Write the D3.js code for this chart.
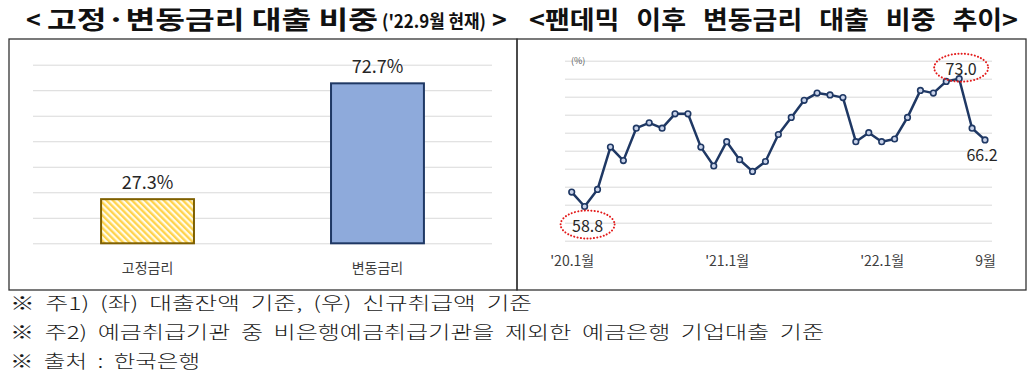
<!DOCTYPE html>
<html>
<head>
<meta charset="utf-8">
<script src="https://cdn.jsdelivr.net/npm/d3@7"></script>
<style>
  body { margin: 0; background: #fff; }
  svg { display: block; font-family: "Noto Sans CJK KR", "Noto Sans", sans-serif; }
</style>
</head>
<body>
<div id="chart"></div>
<script>
// left panel: share of loans by rate type ('22.9)
const barCategories = ["고정금리", "변동금리"];
const barShares = [27.3, 72.7];
const barTicks = [10, 20, 30, 40, 50, 60, 70, 80];

// right panel: monthly share of floating-rate new loans, '20.1 ~ '22.9
const months = [
  "20.1", "20.2", "20.3", "20.4", "20.5", "20.6", "20.7", "20.8", "20.9", "20.10", "20.11", "20.12",
  "21.1", "21.2", "21.3", "21.4", "21.5", "21.6", "21.7", "21.8", "21.9", "21.10", "21.11", "21.12",
  "22.1", "22.2", "22.3", "22.4", "22.5", "22.6", "22.7", "22.8", "22.9"
];
const floatShares = [
  60.4, 58.8, 60.7, 65.4, 63.9, 67.5, 68.1, 67.5, 69.1, 69.1, 65.4, 63.3,
  66.0, 64.0, 62.7, 63.8, 66.8, 68.7, 70.6, 71.4, 71.2, 70.9, 66.0, 67.0,
  66.0, 66.3, 68.7, 71.7, 71.4, 72.7, 73.0, 67.5, 66.2
];
const lineTicks = [55, 57, 59, 61, 63, 65, 67, 69, 71, 73, 75];
const monthLabels = { "20.1": "'20.1월", "21.1": "'21.1월", "22.1": "'22.1월", "22.9": "9월" };
// annotated points: index, offsets, circled or not
const callouts = [
  { i: 1, dx: 3, dy: 18, ring: true },
  { i: 30, dx: 2, dy: -11, ring: true },
  { i: 32, dx: -3, dy: 14, ring: false }
];

const notes = [
  "※ 주1) (좌) 대출잔액 기준, (우) 신규취급액 기준",
  "※ 주2) 예금취급기관 중 비은행예금취급기관을 제외한 예금은행 기업대출 기준",
  "※ 출처 : 한국은행"
];
const noteWidths = [522, 814, 190];

const WIDTH = 1033;
const HEIGHT = 382;

const svg = d3.select("#chart")
  .append("svg")
  .attr("width", WIDTH)
  .attr("height", HEIGHT);

const defs = svg.append("defs");
const hatch = defs.append("pattern")
  .attr("id", "hatch")
  .attr("patternUnits", "userSpaceOnUse")
  .attr("width", 4.5)
  .attr("height", 4.5)
  .attr("patternTransform", "rotate(-45)");
hatch.append("rect").attr("width", 4.5).attr("height", 4.5).attr("fill", "#fffbe8");
hatch.append("rect").attr("width", 2.3).attr("height", 4.5).attr("fill", "#ffd34d");

// titles
const title = svg.append("g")
  .attr("font-weight", 700)
  .attr("fill", "#111");
title.append("text").attr("x", 26).attr("y", 29).attr("font-size", 25).text("<");
title.append("text")
  .attr("x", 47).attr("y", 29)
  .attr("font-size", 25)
  .attr("textLength", 331)
  .attr("lengthAdjust", "spacingAndGlyphs")
  .text("고정·변동금리 대출 비중");
title.append("text")
  .attr("x", 382).attr("y", 28)
  .attr("font-size", 18)
  .attr("textLength", 104)
  .attr("lengthAdjust", "spacingAndGlyphs")
  .text("('22.9월 현재)");
title.append("text").attr("x", 492).attr("y", 29).attr("font-size", 25).text(">");

title.append("text")
  .attr("x", 529).attr("y", 29)
  .attr("font-size", 25)
  .attr("word-spacing", 10)
  .attr("textLength", 489)
  .attr("lengthAdjust", "spacingAndGlyphs")
  .text("<팬데믹 이후 변동금리 대출 비중 추이>");

// frames
svg.append("rect")
  .attr("x", 9).attr("y", 39).attr("width", 508).attr("height", 251)
  .attr("fill", "none").attr("stroke", "#333").attr("stroke-width", 1.3);
svg.append("rect")
  .attr("x", 517).attr("y", 39).attr("width", 509).attr("height", 251)
  .attr("fill", "none").attr("stroke", "#333").attr("stroke-width", 1.3);

// ---- bar chart ----
const xBar = d3.scaleBand()
  .domain(barCategories)
  .range([33, 492])
  .paddingInner(0.596)
  .paddingOuter(0.296);

const yBar = d3.scaleLinear()
  .domain([10, 80])
  .range([243.3, 64.7]);

const barGrid = svg.append("g")
  .call(d3.axisLeft(yBar).tickValues(barTicks).tickSize(-(492 - 33)).tickFormat(""))
  .attr("transform", "translate(33,0)");
barGrid.select(".domain").remove();
barGrid.selectAll(".tick line").attr("stroke", "#d9d9d9").attr("stroke-width", 1);

svg.selectAll(".bar")
  .data(barCategories)
  .enter()
  .append("rect")
    .attr("class", "bar")
    .attr("x", d => xBar(d))
    .attr("width", xBar.bandwidth())
    .attr("y", (d, i) => yBar(barShares[i]))
    .attr("height", (d, i) => yBar(10) - yBar(barShares[i]))
    .attr("fill", (d, i) => i === 0 ? "url(#hatch)" : "#8eaadb")
    .attr("stroke", (d, i) => i === 0 ? "#7f6000" : "#1f3864")
    .attr("stroke-width", 2);

svg.selectAll(".bar-label")
  .data(barCategories)
  .enter()
  .append("text")
    .attr("class", "bar-label")
    .attr("x", d => xBar(d) + xBar.bandwidth() / 2)
    .attr("y", (d, i) => yBar(barShares[i]) - 10)
    .attr("text-anchor", "middle")
    .attr("font-size", 18)
    .attr("fill", "#262626")
    .text((d, i) => barShares[i].toFixed(1) + "%");

const barAxis = svg.append("g")
  .attr("transform", "translate(0,243.3)")
  .call(d3.axisBottom(xBar).tickSize(0).tickPadding(20));
barAxis.select(".domain").remove();
barAxis.selectAll("text")
  .attr("font-family", "'Noto Sans CJK KR', sans-serif")
  .attr("font-size", 14)
  .attr("fill", "#404040");

// ---- line chart ----
const xLine = d3.scalePoint()
  .domain(months)
  .range([571.7, 985]);

const yLine = d3.scaleLinear()
  .domain([55, 75])
  .range([240.7, 60.7]);

const lineGrid = svg.append("g")
  .attr("transform", "translate(565,0)")
  .call(d3.axisLeft(yLine).tickValues(lineTicks).tickSize(-(992 - 565)).tickFormat(""));
lineGrid.select(".domain").remove();
lineGrid.selectAll(".tick line").attr("stroke", "#d9d9d9").attr("stroke-width", 1);

svg.append("text")
  .attr("x", 571).attr("y", 64)
  .attr("font-size", 9)
  .attr("fill", "#595959")
  .text("(%)");

const line = d3.line()
  .x((d, i) => xLine(months[i]))
  .y(d => yLine(d));

svg.append("path")
  .datum(floatShares)
  .attr("d", line)
  .attr("fill", "none")
  .attr("stroke", "#1f3864")
  .attr("stroke-width", 2.5)
  .attr("stroke-linejoin", "round");

svg.selectAll(".dot")
  .data(floatShares)
  .enter()
  .append("circle")
    .attr("class", "dot")
    .attr("cx", (d, i) => xLine(months[i]))
    .attr("cy", d => yLine(d))
    .attr("r", 2.8)
    .attr("fill", "#c9d3ea")
    .attr("stroke", "#1f3864")
    .attr("stroke-width", 1.6);

const lineAxis = svg.append("g")
  .attr("transform", "translate(0,240.7)")
  .call(d3.axisBottom(xLine)
    .tickValues(Object.keys(monthLabels))
    .tickFormat(d => monthLabels[d])
    .tickSize(0)
    .tickPadding(15));
lineAxis.select(".domain").remove();
lineAxis.selectAll("text")
  .attr("font-family", "'Noto Sans CJK KR', sans-serif")
  .attr("font-size", 14)
  .attr("fill", "#404040");

const co = svg.selectAll(".callout")
  .data(callouts)
  .enter()
  .append("g")
    .attr("class", "callout")
    .attr("transform", d => `translate(${xLine(months[d.i]) + d.dx},${yLine(floatShares[d.i]) + d.dy})`);

co.filter(d => d.ring)
  .append("ellipse")
    .attr("rx", 27)
    .attr("ry", 14)
    .attr("fill", "none")
    .attr("stroke", "#e31b1b")
    .attr("stroke-width", 2)
    .attr("stroke-dasharray", "0.1 3.2")
    .attr("stroke-linecap", "round");

co.append("text")
  .attr("text-anchor", "middle")
  .attr("dominant-baseline", "central")
  .attr("font-size", 16)
  .attr("fill", "#262626")
  .text(d => floatShares[d.i].toFixed(1));

// ---- notes ----
svg.selectAll(".note")
  .data(notes)
  .enter()
  .append("text")
    .attr("class", "note")
    .attr("x", 10)
    .attr("y", (d, i) => 302 + i * 29)
    .attr("dominant-baseline", "central")
    .attr("font-size", 18)
    .attr("font-weight", 300)
    .attr("word-spacing", 4)
    .attr("fill", "#1a1a1a")
    .attr("textLength", (d, i) => noteWidths[i])
    .attr("lengthAdjust", "spacingAndGlyphs")
    .text(d => d);
</script>
</body>
</html>
